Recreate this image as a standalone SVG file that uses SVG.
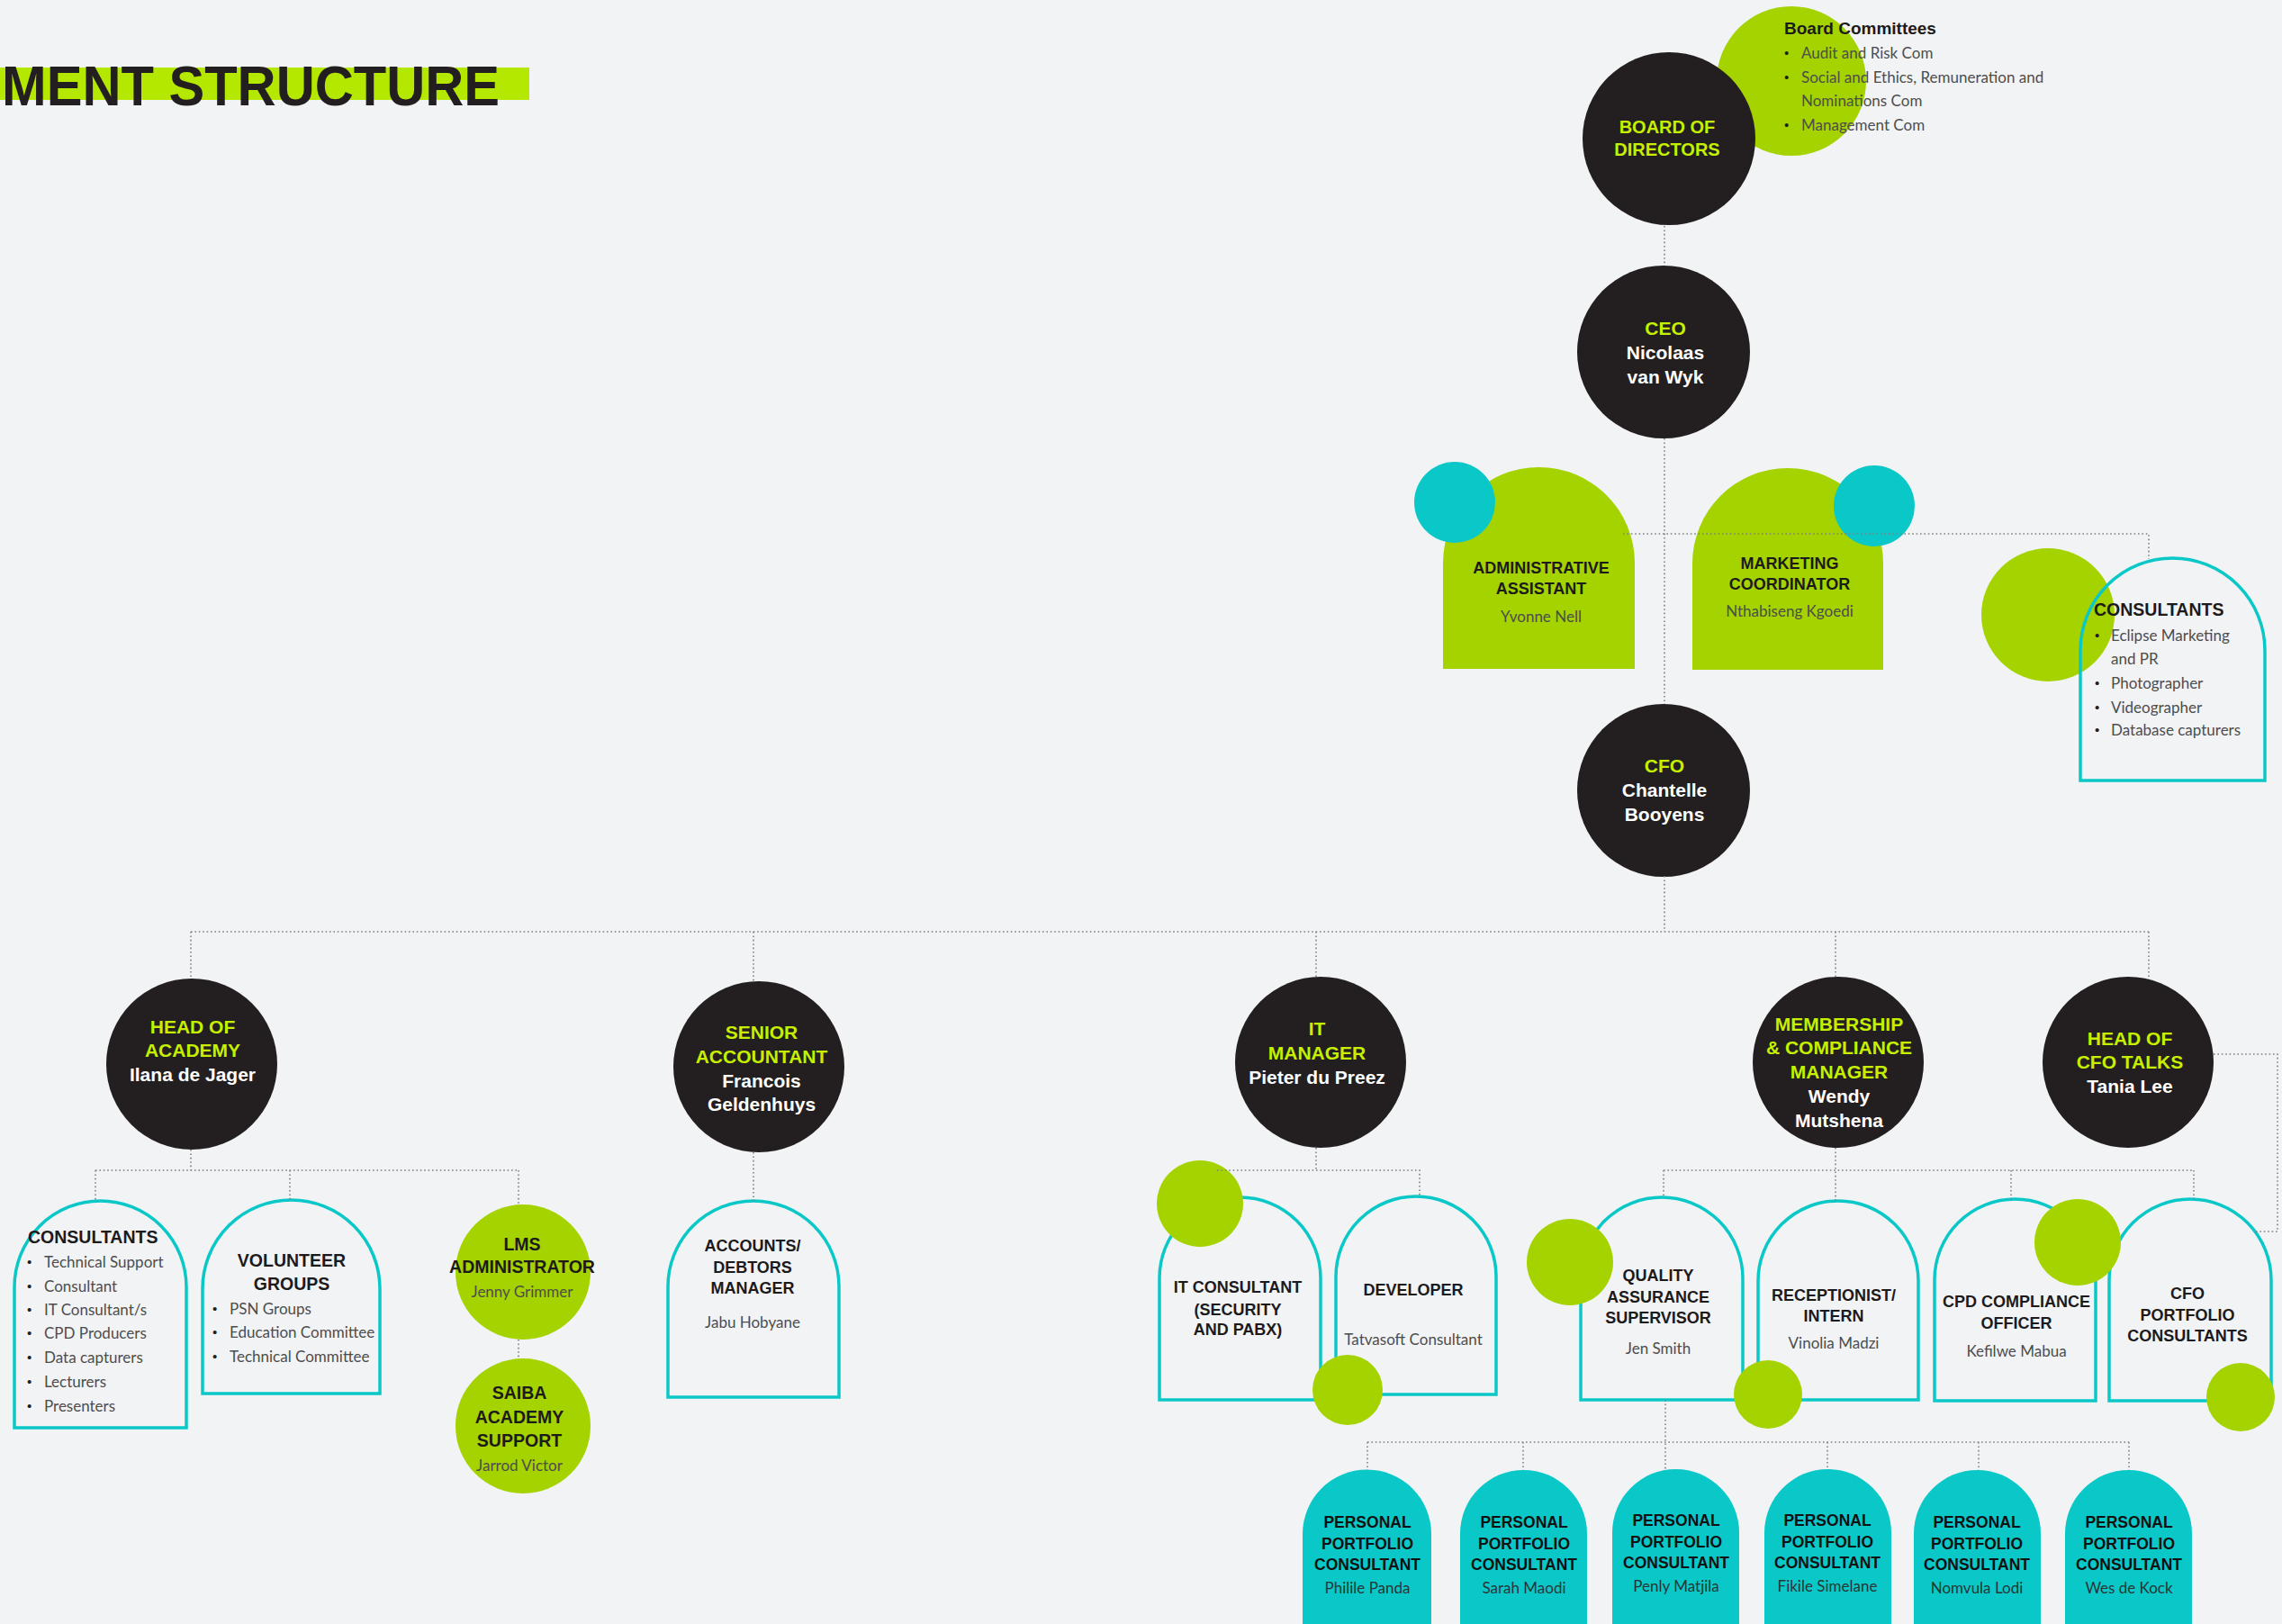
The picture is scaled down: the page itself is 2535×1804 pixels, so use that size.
<svg xmlns="http://www.w3.org/2000/svg" width="2535" height="1804" viewBox="0 0 2535 1804">
<style>
.bg{fill:#f2f3f5}
.blk{fill:#231f20}
.grn{fill:#a4d300}
.teal{fill:#0bc8c8}
.arch{fill:none;stroke:#0bc8c8;stroke-width:3.5}
.archf{fill:#a4d300}
.archt{fill:#0bc8c8}
.con{fill:none;stroke:#808080;stroke-width:1.6;stroke-dasharray:1.6 2.8}
text{font-family:"Liberation Sans",Arial,sans-serif}
.lime{font-weight:bold;font-size:21px;fill:#c6f000;text-anchor:middle}
.wht{font-weight:bold;font-size:21px;fill:#ffffff;text-anchor:middle}
.h{font-weight:bold;font-size:18px;fill:#1c1a1b;text-anchor:middle}
.h2{font-weight:bold;font-size:19.5px;fill:#1c1a1b;text-anchor:middle}
.hl{font-weight:bold;font-size:19.5px;fill:#1c1a1b}
.n{font-family:Lato,"Liberation Sans",sans-serif;font-weight:400;font-size:17px;fill:#4d4d4d;text-anchor:middle}
.nd{font-family:Lato,"Liberation Sans",sans-serif;font-weight:400;font-size:17px;fill:#263636;text-anchor:middle}
.b{font-family:Lato,"Liberation Sans",sans-serif;font-weight:400;font-size:17px;fill:#4d4d4d}
.dot{font-size:15px;fill:#231f20}
.ph{font-weight:bold;font-size:17.5px;fill:#111;text-anchor:middle}
</style>
<rect class="bg" x="0" y="0" width="2535" height="1804"/>

<g id="title">
<rect x="0" y="75" width="588" height="36" fill="#b4e800"/>
<text x="2" y="117" textLength="553" lengthAdjust="spacingAndGlyphs" font-size="63" font-weight="bold" fill="#231f20">MENT STRUCTURE</text>
</g>

<g id="board">
<circle class="grn" cx="1990" cy="90" r="83"/>
<circle class="blk" cx="1854" cy="154" r="96"/>
<text class="lime" x="1852" y="148" style="font-size:20px">BOARD OF</text>
<text class="lime" x="1852" y="173" style="font-size:20px">DIRECTORS</text>
</g>

<g id="board-committees">
<text class="hl" x="1982" y="38" style="font-size:19px">Board Committees</text>
<text class="dot" x="1982" y="64">•</text><text class="b" x="2001" y="65">Audit and Risk Com</text>
<text class="dot" x="1982" y="91">•</text><text class="b" x="2001" y="92">Social and Ethics, Remuneration and</text>
<text class="b" x="2001" y="118">Nominations Com</text>
<text class="dot" x="1982" y="144">•</text><text class="b" x="2001" y="145">Management Com</text>
</g>

<g id="ceo">
<circle class="blk" cx="1848" cy="391" r="96"/>
<text class="lime" x="1850" y="372">CEO</text>
<text class="wht" x="1850" y="399">Nicolaas</text>
<text class="wht" x="1850" y="426">van Wyk</text>
</g>

<g id="admin-assistant">
<path class="archf" d="M1603 743 V625.5 A106.5 106.5 0 0 1 1816 625.5 V743 Z"/>
<circle class="teal" cx="1616" cy="558" r="45"/>
<text class="h" x="1712" y="637">ADMINISTRATIVE</text>
<text class="h" x="1712" y="660">ASSISTANT</text>
<text class="n" x="1712" y="691">Yvonne Nell</text>
</g>

<g id="marketing-coordinator">
<path class="archf" d="M1880 744 V626 A106 106 0 0 1 2092 626 V744 Z"/>
<circle class="teal" cx="2082" cy="562" r="45"/>
<text class="h" x="1988" y="632">MARKETING</text>
<text class="h" x="1988" y="655">COORDINATOR</text>
<text class="n" x="1988" y="685">Nthabiseng Kgoedi</text>
</g>

<g id="consultants-top">
<circle class="grn" cx="2275" cy="683" r="74"/>
<path class="arch" d="M2311 867 V722.5 A102.5 102.5 0 0 1 2516 722.5 V867 Z"/>
<text class="hl" x="2326" y="684">CONSULTANTS</text>
<text class="dot" x="2327" y="711">•</text><text class="b" x="2345" y="712">Eclipse Marketing</text>
<text class="b" x="2345" y="738">and PR</text>
<text class="dot" x="2327" y="764">•</text><text class="b" x="2345" y="765">Photographer</text>
<text class="dot" x="2327" y="791">•</text><text class="b" x="2345" y="792">Videographer</text>
<text class="dot" x="2327" y="816">•</text><text class="b" x="2345" y="817">Database capturers</text>
</g>

<g id="cfo">
<circle class="blk" cx="1848" cy="878" r="96"/>
<text class="lime" x="1849" y="858">CFO</text>
<text class="wht" x="1849" y="885">Chantelle</text>
<text class="wht" x="1849" y="912">Booyens</text>
</g>

<g id="head-academy">
<circle class="blk" cx="213" cy="1182" r="95"/>
<text class="lime" x="214" y="1148">HEAD OF</text>
<text class="lime" x="214" y="1174">ACADEMY</text>
<text class="wht" x="214" y="1201">Ilana de Jager</text>
</g>

<g id="senior-accountant">
<circle class="blk" cx="843" cy="1185" r="95"/>
<text class="lime" x="846" y="1154">SENIOR</text>
<text class="lime" x="846" y="1181">ACCOUNTANT</text>
<text class="wht" x="846" y="1208">Francois</text>
<text class="wht" x="846" y="1234">Geldenhuys</text>
</g>

<g id="it-manager">
<circle class="blk" cx="1467" cy="1180" r="95"/>
<text class="lime" x="1463" y="1150">IT</text>
<text class="lime" x="1463" y="1177">MANAGER</text>
<text class="wht" x="1463" y="1204">Pieter du Preez</text>
</g>

<g id="membership-manager">
<circle class="blk" cx="2042" cy="1180" r="95"/>
<text class="lime" x="2043" y="1145">MEMBERSHIP</text>
<text class="lime" x="2043" y="1171">&amp; COMPLIANCE</text>
<text class="lime" x="2043" y="1198">MANAGER</text>
<text class="wht" x="2043" y="1225">Wendy</text>
<text class="wht" x="2043" y="1252">Mutshena</text>
</g>

<g id="head-cfo-talks">
<circle class="blk" cx="2364" cy="1180" r="95"/>
<text class="lime" x="2366" y="1161">HEAD OF</text>
<text class="lime" x="2366" y="1187">CFO TALKS</text>
<text class="wht" x="2366" y="1214">Tania Lee</text>
</g>

<g id="consultants-academy">
<path class="arch" d="M16 1586 V1429.5 A95.5 95.5 0 0 1 207 1429.5 V1586 Z"/>
<text class="hl" x="31" y="1381">CONSULTANTS</text>
<text class="dot" x="30" y="1407">•</text><text class="b" x="49" y="1408">Technical Support</text>
<text class="dot" x="30" y="1434">•</text><text class="b" x="49" y="1435">Consultant</text>
<text class="dot" x="30" y="1460">•</text><text class="b" x="49" y="1461">IT Consultant/s</text>
<text class="dot" x="30" y="1486">•</text><text class="b" x="49" y="1487">CPD Producers</text>
<text class="dot" x="30" y="1513">•</text><text class="b" x="49" y="1514">Data capturers</text>
<text class="dot" x="30" y="1540">•</text><text class="b" x="49" y="1541">Lecturers</text>
<text class="dot" x="30" y="1567">•</text><text class="b" x="49" y="1568">Presenters</text>
</g>

<g id="volunteer-groups">
<path class="arch" d="M225 1548 V1431.5 A98.5 98.5 0 0 1 422 1431.5 V1548 Z"/>
<text class="h2" x="324" y="1407">VOLUNTEER</text>
<text class="h2" x="324" y="1433">GROUPS</text>
<text class="dot" x="236" y="1459">•</text><text class="b" x="255" y="1460">PSN Groups</text>
<text class="dot" x="236" y="1485">•</text><text class="b" x="255" y="1486">Education Committee</text>
<text class="dot" x="236" y="1512">•</text><text class="b" x="255" y="1513">Technical Committee</text>
</g>

<g id="lms-administrator">
<circle class="grn" cx="581" cy="1413" r="75"/>
<text class="h2" x="580" y="1389">LMS</text>
<text class="h2" x="580" y="1414">ADMINISTRATOR</text>
<text class="n" x="580" y="1441">Jenny Grimmer</text>
</g>

<g id="saiba-academy-support">
<circle class="grn" cx="581" cy="1584" r="75"/>
<text class="h2" x="577" y="1554">SAIBA</text>
<text class="h2" x="577" y="1581">ACADEMY</text>
<text class="h2" x="577" y="1607">SUPPORT</text>
<text class="n" x="577" y="1634">Jarrod Victor</text>
</g>

<g id="accounts-debtors">
<path class="arch" d="M742 1552 V1429 A95 95 0 0 1 932 1429 V1552 Z"/>
<text class="h" x="836" y="1390">ACCOUNTS/</text>
<text class="h" x="836" y="1414">DEBTORS</text>
<text class="h" x="836" y="1437">MANAGER</text>
<text class="n" x="836" y="1475">Jabu Hobyane</text>
</g>

<g id="it-consultant">
<path class="arch" d="M1288 1555 V1419.5 A89.5 89.5 0 0 1 1467 1419.5 V1555 Z"/>
<circle class="grn" cx="1333" cy="1337" r="48"/>
<text class="h" x="1375" y="1436">IT CONSULTANT</text>
<text class="h" x="1375" y="1461">(SECURITY</text>
<text class="h" x="1375" y="1483">AND PABX)</text>
</g>

<g id="developer">
<path class="arch" d="M1484 1549 V1418 A89 89 0 0 1 1662 1418 V1549 Z"/>
<text class="h" x="1570" y="1439">DEVELOPER</text>
<text class="n" x="1570" y="1494">Tatvasoft Consultant</text>
<circle class="grn" cx="1497" cy="1544" r="39"/>
</g>

<g id="qa-supervisor">
<path class="arch" d="M1756 1555 V1420 A90 90 0 0 1 1936 1420 V1555 Z"/>
<circle class="grn" cx="1744" cy="1402" r="48"/>
<text class="h" x="1842" y="1423">QUALITY</text>
<text class="h" x="1842" y="1447">ASSURANCE</text>
<text class="h" x="1842" y="1470">SUPERVISOR</text>
<text class="n" x="1842" y="1504">Jen Smith</text>
</g>

<g id="receptionist">
<path class="arch" d="M1953 1555 V1423 A89 89 0 0 1 2131 1423 V1555 Z"/>
<text class="h" x="2037" y="1445">RECEPTIONIST/</text>
<text class="h" x="2037" y="1468">INTERN</text>
<text class="n" x="2037" y="1498">Vinolia Madzi</text>
<circle class="grn" cx="1964" cy="1549" r="38"/>
</g>

<g id="cpd-compliance">
<path class="arch" d="M2149 1556 V1421.5 A89.5 89.5 0 0 1 2328 1421.5 V1556 Z"/>
<text class="h" x="2240" y="1452">CPD COMPLIANCE</text>
<text class="h" x="2240" y="1476">OFFICER</text>
<text class="n" x="2240" y="1507">Kefilwe Mabua</text>
</g>

<g id="cfo-portfolio">
<path class="arch" d="M2343 1556 V1422 A90 90 0 0 1 2523 1422 V1556 Z"/>
<circle class="grn" cx="2308" cy="1380" r="48"/>
<text class="h" x="2430" y="1443">CFO</text>
<text class="h" x="2430" y="1467">PORTFOLIO</text>
<text class="h" x="2430" y="1490">CONSULTANTS</text>
<circle class="grn" cx="2489" cy="1552" r="38"/>
</g>

<g id="ppc-1">
<path class="archt" d="M1447 1810 V1704 A71.5 71.5 0 0 1 1590 1704 V1810 Z"/>
<text class="ph" x="1519" y="1697">PERSONAL</text>
<text class="ph" x="1519" y="1721">PORTFOLIO</text>
<text class="ph" x="1519" y="1744">CONSULTANT</text>
<text class="nd" x="1519" y="1770">Philile Panda</text>
</g>
<g id="ppc-2">
<path class="archt" d="M1622 1810 V1703.5 A70.5 70.5 0 0 1 1763 1703.5 V1810 Z"/>
<text class="ph" x="1693" y="1697">PERSONAL</text>
<text class="ph" x="1693" y="1721">PORTFOLIO</text>
<text class="ph" x="1693" y="1744">CONSULTANT</text>
<text class="nd" x="1693" y="1770">Sarah Maodi</text>
</g>
<g id="ppc-3">
<path class="archt" d="M1791 1810 V1702.5 A70.5 70.5 0 0 1 1932 1702.5 V1810 Z"/>
<text class="ph" x="1862" y="1695">PERSONAL</text>
<text class="ph" x="1862" y="1719">PORTFOLIO</text>
<text class="ph" x="1862" y="1742">CONSULTANT</text>
<text class="nd" x="1862" y="1768">Penly Matjila</text>
</g>
<g id="ppc-4">
<path class="archt" d="M1960 1810 V1702.5 A70.5 70.5 0 0 1 2101 1702.5 V1810 Z"/>
<text class="ph" x="2030" y="1695">PERSONAL</text>
<text class="ph" x="2030" y="1719">PORTFOLIO</text>
<text class="ph" x="2030" y="1742">CONSULTANT</text>
<text class="nd" x="2030" y="1768">Fikile Simelane</text>
</g>
<g id="ppc-5">
<path class="archt" d="M2126 1810 V1703.5 A70.5 70.5 0 0 1 2267 1703.5 V1810 Z"/>
<text class="ph" x="2196" y="1697">PERSONAL</text>
<text class="ph" x="2196" y="1721">PORTFOLIO</text>
<text class="ph" x="2196" y="1744">CONSULTANT</text>
<text class="nd" x="2196" y="1770">Nomvula Lodi</text>
</g>
<g id="ppc-6">
<path class="archt" d="M2294 1810 V1703.5 A70.5 70.5 0 0 1 2435 1703.5 V1810 Z"/>
<text class="ph" x="2365" y="1697">PERSONAL</text>
<text class="ph" x="2365" y="1721">PORTFOLIO</text>
<text class="ph" x="2365" y="1744">CONSULTANT</text>
<text class="nd" x="2365" y="1770">Wes de Kock</text>
</g>

<g id="connectors" class="con">
<path d="M1849 251 V295"/>
<path d="M1849 487 V782"/>
<path d="M1803 593 H2387 V621"/>
<path d="M1849 973 V1035"/>
<path d="M212 1035 H2387"/>
<path d="M212 1035 V1087"/>
<path d="M837 1035 V1090"/>
<path d="M1462 1035 V1085"/>
<path d="M2039 1035 V1085"/>
<path d="M2387 1035 V1088"/>
<path d="M212 1277 V1300"/>
<path d="M106 1300 H576"/>
<path d="M106 1300 V1334"/>
<path d="M322 1300 V1333"/>
<path d="M576 1300 V1338"/>
<path d="M576 1488 V1509"/>
<path d="M837 1280 V1334"/>
<path d="M1462 1275 V1300"/>
<path d="M1352 1300 H1577 V1329"/>
<path d="M2039 1275 V1334"/>
<path d="M1848 1300 H2437"/>
<path d="M1848 1300 V1330"/>
<path d="M2234 1300 V1332"/>
<path d="M2437 1300 V1332"/>
<path d="M2459 1171 H2530 V1368 H2503"/>
<path d="M1850 1555 V1632"/>
<path d="M1519 1602 H2365"/>
<path d="M1519 1602 V1633"/>
<path d="M1692 1602 V1633"/>
<path d="M2030 1602 V1632"/>
<path d="M2198 1602 V1633"/>
<path d="M2365 1602 V1633"/>
</g>
</svg>
